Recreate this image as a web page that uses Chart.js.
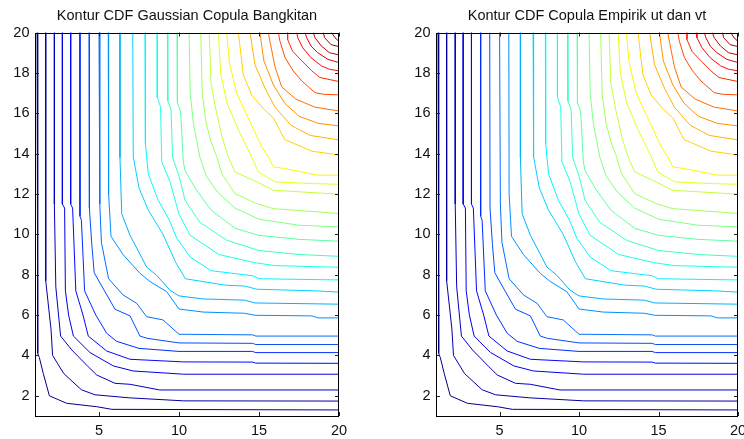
<!DOCTYPE html>
<html>
<head>
<meta charset="utf-8">
<script src="https://cdn.jsdelivr.net/npm/chart.js@4.4.1/dist/chart.umd.min.js"></script>
<style>
  body { margin: 0; background: #fff; width: 744px; height: 439px; overflow: hidden; position: relative; }
  canvas { position: absolute; top: 0; }
</style>
</head>
<body>
<canvas id="leftChart" width="372" height="439" style="left:0"></canvas>
<canvas id="rightChart" width="372" height="439" style="left:372px"></canvas>
<script>
// Tick labels on both axes
const xTicks = [5, 10, 15, 20];
const yTicks = [2, 4, 6, 8, 10, 12, 14, 16, 18, 20];

const titleGaussian = 'Kontur CDF Gaussian Copula Bangkitan';
const titleEmpirical = 'Kontur CDF Copula Empirik ut dan vt';

// Contour lines, lowest level first, each one from the top edge to the right edge
const gaussianContours = [
  [[1.13,20],[1.17,4.1],[1.27,3.9],[1.52,3.1],[1.9,2.0],[2.98,1.63],[4.86,1.46],[5.8,1.33],[20,1.3]],
  [[1.67,20],[1.67,7.7],[2.0,5.3],[2.1,4.0],[2.8,3.1],[3.9,2.3],[4.75,2.05],[6.9,1.9],[10.3,1.75],[20,1.74]],
  [[2.21,20],[2.21,11.5],[2.3,7.4],[2.6,4.96],[3.3,4.27],[4.33,3.44],[4.86,3.03],[6.0,2.62],[6.94,2.57],[8.8,2.29],[20,2.29]],
  [[2.71,20],[2.71,11.5],[2.85,11.3],[2.9,7.2],[3.1,6.0],[3.4,4.96],[4.44,4.14],[5.9,3.48],[7.14,3.23],[10.3,3.07],[20,3.07]],
  [[3.23,20],[3.23,11.5],[3.35,11.3],[3.55,7.2],[4.0,6.0],[4.33,4.96],[5.48,4.22],[6.94,3.81],[10.3,3.68],[14.6,3.67],[14.8,3.62],[20,3.61]],
  [[3.81,20],[3.81,10.9],[3.9,10.7],[4.1,7.2],[4.8,6.0],[5.48,5.1],[6.1,4.7],[7.5,4.35],[10,4.2],[14.6,4.2],[14.8,4.14],[20,4.14]],
  [[4.38,20],[4.4,11.3],[4.55,9.5],[4.7,8.1],[5.17,7.44],[6.0,6.29],[6.94,5.96],[7.56,4.96],[8,4.85],[10,4.62],[14.6,4.6],[14.8,4.54],[20,4.54]],
  [[5.0,20],[5.05,11.5],[5.15,9.6],[5.6,7.8],[6.5,7.0],[7.36,6.58],[7.98,5.92],[9.0,5.76],[10,5.05],[14.6,5.02],[14.8,4.96],[20,4.96]],
  [[5.58,20],[5.6,12],[5.75,9.9],[6.5,9.0],[7.56,8.07],[8.19,7.66],[9.23,7.16],[10.0,6.3],[11.5,6.15],[14.1,6.09],[14.75,5.99],[18.3,5.96],[18.7,5.86],[20,5.86]],
  [[6.31,20],[6.31,13.8],[6.42,11.02],[6.94,9.95],[7.98,8.38],[8.6,7.97],[9.44,7.23],[10.0,6.95],[11.5,6.8],[14.1,6.74],[14.75,6.6],[20,6.54]],
  [[7.11,20],[7.14,13.84],[7.5,12.3],[8.08,11.2],[9.0,10.0],[9.8,8.6],[10.4,7.8],[12.9,7.48],[14.1,7.44],[14.86,7.28],[18.5,7.2],[20,7.14]],
  [[7.88,20],[7.9,14.5],[8.08,13.0],[8.7,11.69],[9.4,10.7],[9.86,9.8],[10.7,8.88],[12,8.2],[14.6,7.95],[15,7.8],[20,7.74]],
  [[8.64,20],[8.64,16.8],[8.85,16.3],[8.92,13.6],[9.44,12.6],[10.0,11.0],[10.7,9.95],[12.5,9.0],[14.7,8.6],[16,8.45],[20,8.37]],
  [[9.27,20],[9.3,16.6],[9.5,16.2],[9.6,13.8],[10.0,12.9],[10.375,11.69],[11.3,10.6],[13,9.7],[15,9.2],[17.5,9.0],[20,8.91]],
  [[9.88,20],[9.9,16.5],[10.1,16.1],[10.27,13.6],[10.375,13.17],[11.0,12.3],[12.0,11.2],[13.5,10.3],[15,9.95],[17.5,9.75],[20,9.66]],
  [[10.63,20],[10.7,17],[10.9,15.5],[11.3,13.84],[11.7,12.9],[12.4,12.1],[13.5,11.3],[15,10.75],[17.5,10.45],[20,10.37]],
  [[11.36,20],[11.45,17],[11.7,15.5],[12.0,14.6],[12.36,13.84],[12.67,13.01],[13.5,12.02],[14.86,11.52],[15.9,11.27],[18.9,11.1],[20,11.03]],
  [[11.89,20],[12.0,17.5],[12.3,16.2],[12.7,14.8],[13.08,13.84],[13.5,13.09],[14.86,12.6],[15.9,12.18],[16.6,12.15],[20,11.99]],
  [[12.46,20],[12.6,18],[13.0,16.5],[13.7,15.2],[14.54,13.84],[14.96,13.09],[16,12.6],[18.5,12.51],[20,12.48]],
  [[12.98,20],[13.15,18.5],[13.6,17],[14.3,15.8],[15.2,14.3],[15.58,13.84],[15.9,13.34],[16.6,13.26],[18.7,12.93],[20,12.93]],
  [[13.71,20],[14.02,17.9],[14.54,16.9],[15.3,16.2],[15.9,15.77],[16.6,14.7],[18.3,14.12],[20,13.93]],
  [[14.44,20],[14.75,18.4],[15.4,17.2],[16,16.3],[17,15.4],[18.2,14.9],[20,14.68]],
  [[15.06,20],[15.3,18.6],[15.9,17.4],[16.6,16.5],[17.5,15.85],[18.7,15.5],[20,15.37]],
  [[15.58,20],[15.7,19.5],[16.0,18.3],[16.42,17.3],[17.3,16.7],[18.5,16.3],[20,16.11]],
  [[16.21,20],[16.31,19.57],[16.63,18.75],[17.14,18.1],[17.67,17.6],[18.5,17.02],[19.02,16.94],[20,16.91]],
  [[16.79,20],[16.79,19.65],[17.1,19.07],[17.67,18.6],[18.3,18.1],[18.8,17.77],[20,17.57]],
  [[17.36,20],[17.42,19.74],[17.73,19.25],[18.25,18.75],[18.9,18.35],[19.4,18.18],[20,18.1]],
  [[17.88,20],[17.98,19.74],[18.25,19.33],[18.67,19.0],[19.3,18.67],[20,18.51]],
  [[18.39,20],[18.5,19.74],[18.9,19.33],[19.4,19.0],[20,18.89]],
  [[19.02,20],[19.1,19.74],[19.5,19.4],[20,19.3]],
  [[19.54,20],[19.75,19.74],[20,19.56]]
];

// The empirical copula contours look the same as the generated ones
const empiricalContours = gaussianContours;

// MATLAB style jet colour map
function jet(t) {
  const clamp = v => Math.max(0, Math.min(1, v));
  const r = clamp(1.5 - Math.abs(4 * t - 3));
  const g = clamp(1.5 - Math.abs(4 * t - 2));
  const b = clamp(1.5 - Math.abs(4 * t - 1));
  return `rgb(${Math.round(r * 255)},${Math.round(g * 255)},${Math.round(b * 255)})`;
}

// Box round the axes with small ticks pointing inwards, on all four sides
const boxPlugin = {
  id: 'boxPlugin',
  afterDatasetsDraw(chart) {
    const { ctx, chartArea: a, scales } = chart;
    const len = 4;
    ctx.save();
    ctx.strokeStyle = '#222';
    ctx.lineWidth = 1;
    ctx.beginPath();
    for (const v of xTicks) {
      const px = Math.round(scales.x.getPixelForValue(v)) + 0.5;
      ctx.moveTo(px, a.bottom); ctx.lineTo(px, a.bottom - len);
      ctx.moveTo(px, a.top); ctx.lineTo(px, a.top + len);
    }
    for (const v of yTicks) {
      const py = Math.round(scales.y.getPixelForValue(v)) + 0.5;
      ctx.moveTo(a.left, py); ctx.lineTo(a.left + len, py);
      ctx.moveTo(a.right, py); ctx.lineTo(a.right - len, py);
    }
    ctx.stroke();
    ctx.strokeStyle = '#000';
    ctx.strokeRect(Math.round(a.left) + 0.5, Math.round(a.top) + 0.5,
      Math.round(a.right - a.left) - 1, Math.round(a.bottom - a.top) - 1);
    ctx.restore();
  }
};

function makeChart(id, title, contours, yAxisWidth, rightPad) {
  const datasets = contours.map((line, i) => ({
    data: line.map(p => ({ x: p[0], y: p[1] })),
    borderColor: jet(i / (contours.length - 1)),
    borderWidth: 1,
    pointRadius: 0,
    showLine: true,
    fill: false,
    tension: 0
  }));

  return new Chart(document.getElementById(id), {
    type: 'scatter',
    data: { datasets },
    options: {
      responsive: false,
      devicePixelRatio: 1,
      animation: false,
      events: [],
      layout: { padding: { top: 0, left: 0, right: rightPad, bottom: 0 } },
      plugins: {
        legend: { display: false },
        tooltip: { enabled: false },
        title: {
          display: true,
          text: title,
          fullSize: false,
          color: '#111',
          font: { family: 'Liberation Sans, Arial, sans-serif', size: 14.5, weight: 'normal' },
          padding: { top: 7, bottom: 8.1 }
        }
      },
      scales: {
        x: {
          type: 'linear',
          min: 1,
          max: 20,
          grid: { display: false, drawTicks: false },
          border: { display: false },
          afterBuildTicks: s => { s.ticks = xTicks.map(v => ({ value: v })); },
          afterFit: s => { s.height = 23; s.paddingLeft = 0; s.paddingRight = 0; },
          ticks: {
            color: '#111',
            padding: 6,
            maxRotation: 0,
            autoSkip: false,
            font: { family: 'Liberation Sans, Arial, sans-serif', size: 14.5 }
          }
        },
        y: {
          type: 'linear',
          min: 1,
          max: 20,
          grid: { display: false, drawTicks: false },
          border: { display: false },
          afterBuildTicks: s => { s.ticks = yTicks.map(v => ({ value: v })); },
          afterFit: s => { s.width = yAxisWidth; s.paddingTop = 0; s.paddingBottom = 0; },
          ticks: {
            color: '#111',
            padding: 5.5,
            autoSkip: false,
            font: { family: 'Liberation Sans, Arial, sans-serif', size: 14.5 }
          }
        }
      }
    },
    plugins: [boxPlugin]
  });
}

makeChart('leftChart', titleGaussian, gaussianContours, 35, 33);
makeChart('rightChart', titleEmpirical, empiricalContours, 64, 6);
</script>
</body>
</html>
